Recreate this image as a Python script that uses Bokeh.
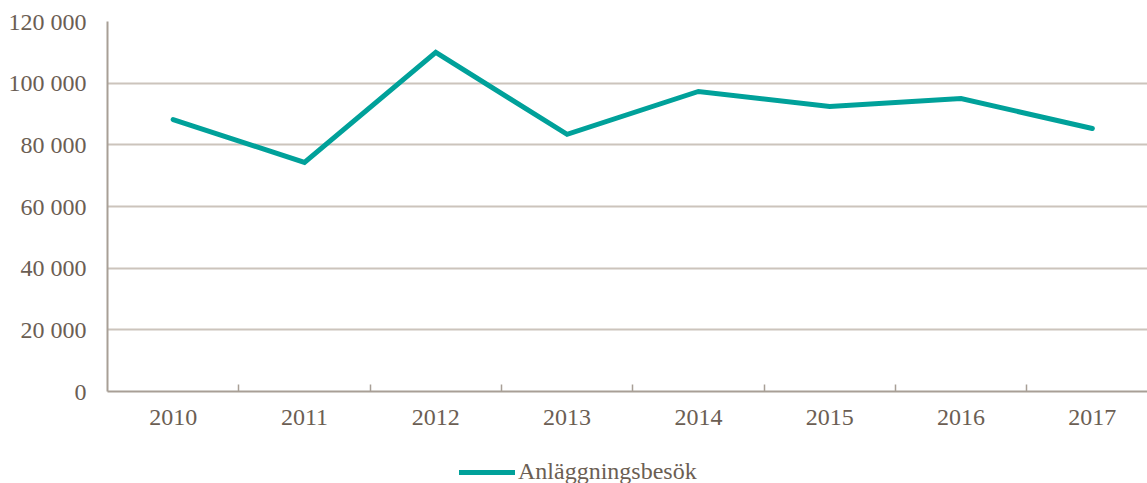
from bokeh.plotting import figure
from bokeh.layouts import column
from bokeh.models import FixedTicker, Range1d, Legend, LegendItem, ColumnDataSource
from bokeh.embed import file_html
from bokeh.resources import INLINE

years = [2010, 2011, 2012, 2013, 2014, 2015, 2016, 2017]
visits = [88200, 74300, 110000, 83400, 97300, 92400, 95000, 85300]
y_ticks = [0, 20000, 40000, 60000, 80000, 100000, 120000]
y_labels = ["0", "20 000", "40 000", "60 000", "80 000", "100 000", "120 000"]
series_name = "Anläggningsbesök"

TEXT = "#6B5E53"
AXIS = "#A89F96"
GRID = "#CCC4BC"
TEAL = "#00A19A"
FONT = "Liberation Serif"
FS = "24px"

p = figure(width=1147, height=440, output_backend="svg", toolbar_location=None,
           x_range=Range1d(years[0] - 0.5, years[-1] + 0.42),
           y_range=Range1d(y_ticks[0], y_ticks[-1]),
           min_border_left=107, min_border_right=0, min_border_top=21, min_border_bottom=49)
p.outline_line_color = None
p.background_fill_color = "white"
p.border_fill_color = "white"

src = ColumnDataSource(dict(x=years, y=visits))
r = p.line("x", "y", source=src, line_color=TEAL, line_width=5, line_join="miter", line_cap="round")

# x axis
bounds = [(a + b) / 2 for a, b in zip(years[:-1], years[1:])]
p.xaxis.ticker = FixedTicker(ticks=years, minor_ticks=bounds)
p.xaxis.major_label_overrides = {y: str(y) for y in years}
p.xaxis.major_tick_out = 0
p.xaxis.major_tick_in = 0
p.xaxis.minor_tick_in = 7
p.xaxis.minor_tick_out = 0
p.xaxis.minor_tick_line_color = AXIS
p.xaxis.minor_tick_line_width = 1.5
p.xaxis.axis_line_color = AXIS
p.xaxis.axis_line_width = 2
p.xaxis.major_label_text_font = FONT
p.xaxis.major_label_text_font_size = FS
p.xaxis.major_label_text_color = TEXT
p.xaxis.major_label_standoff = 18
p.xgrid.grid_line_color = None

# y axis
p.yaxis.ticker = FixedTicker(ticks=y_ticks, minor_ticks=[])
p.yaxis.major_label_overrides = dict(zip(y_ticks, y_labels))
p.yaxis.major_tick_out = 0
p.yaxis.major_tick_in = 0
p.yaxis.minor_tick_in = 0
p.yaxis.minor_tick_out = 0
p.yaxis.axis_line_color = AXIS
p.yaxis.axis_line_width = 2
p.yaxis.major_label_text_font = FONT
p.yaxis.major_label_text_font_size = FS
p.yaxis.major_label_text_color = TEXT
p.yaxis.major_label_standoff = 21
p.ygrid.grid_line_color = GRID
p.ygrid.grid_line_width = 2

# legend strip below the chart
lf = figure(width=1147, height=43, output_backend="svg", toolbar_location=None,
            x_range=Range1d(0, 1), y_range=Range1d(0, 1),
            min_border_left=0, min_border_right=0, min_border_top=0, min_border_bottom=0)
lf.axis.visible = False
lf.grid.visible = False
lf.outline_line_color = None
lf.background_fill_color = "white"
lf.border_fill_color = "white"
lr = lf.line("x", "y", source=src, line_color=TEAL, line_width=5, line_cap="round")

legend = Legend(items=[LegendItem(label=series_name, renderers=[lr])],
                orientation="horizontal", location=(352, -2),
                label_text_font=FONT, label_text_font_size=FS, label_text_color=TEXT,
                glyph_width=56, glyph_height=20, label_standoff=3,
                padding=0, margin=0, spacing=0,
                border_line_color=None, background_fill_alpha=0)
lf.add_layout(legend, "center")

layout = column(p, lf, spacing=0)
open("out.html", "w").write(file_html(layout, INLINE))
